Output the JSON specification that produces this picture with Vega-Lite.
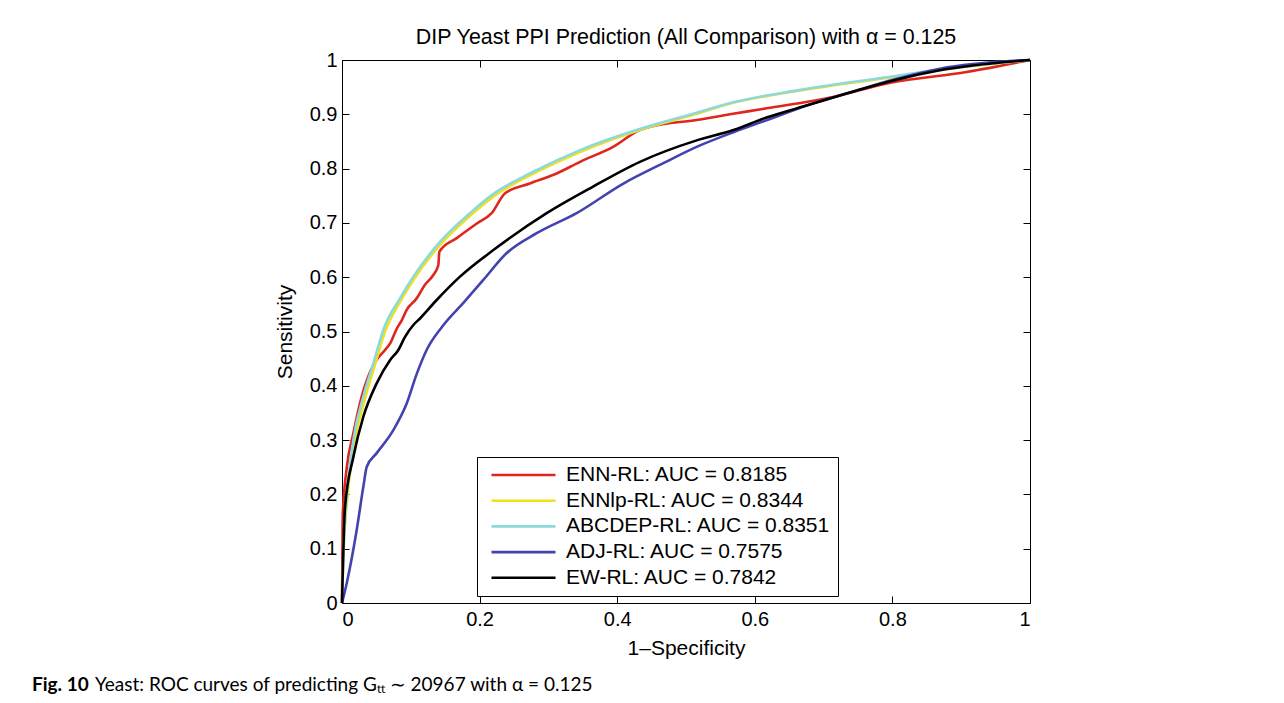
{
  "$schema": "https://vega.github.io/schema/vega-lite/v6.json",
  "background": "white",
  "padding": {"left": 32, "top": 26, "right": 10, "bottom": 0},
  "bounds": "flush",
  "spacing": 72,
  "vconcat": [
    {
      "title": {"text": "DIP Yeast PPI Prediction (All Comparison) with \u03b1 = 0.125", "font": "Liberation Sans", "fontSize": 21.4, "fontWeight": "normal", "color": "black", "offset": 2},
      "width": 688,
      "height": 543,
      "data": {"values": [
        {"model": "ENN-RL: AUC = 0.8185", "fpr": 0, "tpr": 0},
        {"model": "ENN-RL: AUC = 0.8185", "fpr": 0.001, "tpr": 0.16},
        {"model": "ENN-RL: AUC = 0.8185", "fpr": 0.007, "tpr": 0.25},
        {"model": "ENN-RL: AUC = 0.8185", "fpr": 0.0165, "tpr": 0.3125},
        {"model": "ENN-RL: AUC = 0.8185", "fpr": 0.0286, "tpr": 0.38},
        {"model": "ENN-RL: AUC = 0.8185", "fpr": 0.0455, "tpr": 0.438},
        {"model": "ENN-RL: AUC = 0.8185", "fpr": 0.0625, "tpr": 0.466},
        {"model": "ENN-RL: AUC = 0.8185", "fpr": 0.07, "tpr": 0.478},
        {"model": "ENN-RL: AUC = 0.8185", "fpr": 0.0795, "tpr": 0.505},
        {"model": "ENN-RL: AUC = 0.8185", "fpr": 0.087, "tpr": 0.521},
        {"model": "ENN-RL: AUC = 0.8185", "fpr": 0.094, "tpr": 0.54},
        {"model": "ENN-RL: AUC = 0.8185", "fpr": 0.1085, "tpr": 0.561},
        {"model": "ENN-RL: AUC = 0.8185", "fpr": 0.1206, "tpr": 0.586},
        {"model": "ENN-RL: AUC = 0.8185", "fpr": 0.1327, "tpr": 0.604},
        {"model": "ENN-RL: AUC = 0.8185", "fpr": 0.14, "tpr": 0.622},
        {"model": "ENN-RL: AUC = 0.8185", "fpr": 0.1415, "tpr": 0.647},
        {"model": "ENN-RL: AUC = 0.8185", "fpr": 0.1667, "tpr": 0.672},
        {"model": "ENN-RL: AUC = 0.8185", "fpr": 0.196, "tpr": 0.699},
        {"model": "ENN-RL: AUC = 0.8185", "fpr": 0.2175, "tpr": 0.718},
        {"model": "ENN-RL: AUC = 0.8185", "fpr": 0.237, "tpr": 0.7545},
        {"model": "ENN-RL: AUC = 0.8185", "fpr": 0.273, "tpr": 0.7725},
        {"model": "ENN-RL: AUC = 0.8185", "fpr": 0.312, "tpr": 0.791},
        {"model": "ENN-RL: AUC = 0.8185", "fpr": 0.346, "tpr": 0.8125},
        {"model": "ENN-RL: AUC = 0.8185", "fpr": 0.394, "tpr": 0.84},
        {"model": "ENN-RL: AUC = 0.8185", "fpr": 0.433, "tpr": 0.871},
        {"model": "ENN-RL: AUC = 0.8185", "fpr": 0.448, "tpr": 0.877},
        {"model": "ENN-RL: AUC = 0.8185", "fpr": 0.5155, "tpr": 0.8895},
        {"model": "ENN-RL: AUC = 0.8185", "fpr": 0.564, "tpr": 0.9},
        {"model": "ENN-RL: AUC = 0.8185", "fpr": 0.617, "tpr": 0.911},
        {"model": "ENN-RL: AUC = 0.8185", "fpr": 0.714, "tpr": 0.932},
        {"model": "ENN-RL: AUC = 0.8185", "fpr": 0.797, "tpr": 0.958},
        {"model": "ENN-RL: AUC = 0.8185", "fpr": 0.908, "tpr": 0.978},
        {"model": "ENN-RL: AUC = 0.8185", "fpr": 1, "tpr": 1},

        {"model": "ENNlp-RL: AUC = 0.8344", "fpr": 0, "tpr": 0},
        {"model": "ENNlp-RL: AUC = 0.8344", "fpr": 0.002, "tpr": 0.086},
        {"model": "ENNlp-RL: AUC = 0.8344", "fpr": 0.0075, "tpr": 0.19},
        {"model": "ENNlp-RL: AUC = 0.8344", "fpr": 0.018, "tpr": 0.294},
        {"model": "ENNlp-RL: AUC = 0.8344", "fpr": 0.033, "tpr": 0.374},
        {"model": "ENNlp-RL: AUC = 0.8344", "fpr": 0.047, "tpr": 0.435},
        {"model": "ENNlp-RL: AUC = 0.8344", "fpr": 0.062, "tpr": 0.498},
        {"model": "ENNlp-RL: AUC = 0.8344", "fpr": 0.0855, "tpr": 0.557},
        {"model": "ENNlp-RL: AUC = 0.8344", "fpr": 0.105, "tpr": 0.597},
        {"model": "ENNlp-RL: AUC = 0.8344", "fpr": 0.1435, "tpr": 0.661},
        {"model": "ENNlp-RL: AUC = 0.8344", "fpr": 0.187, "tpr": 0.714},
        {"model": "ENNlp-RL: AUC = 0.8344", "fpr": 0.226, "tpr": 0.754},
        {"model": "ENNlp-RL: AUC = 0.8344", "fpr": 0.274, "tpr": 0.788},
        {"model": "ENNlp-RL: AUC = 0.8344", "fpr": 0.347, "tpr": 0.831},
        {"model": "ENNlp-RL: AUC = 0.8344", "fpr": 0.443, "tpr": 0.875},
        {"model": "ENNlp-RL: AUC = 0.8344", "fpr": 0.5155, "tpr": 0.901},
        {"model": "ENNlp-RL: AUC = 0.8344", "fpr": 0.559, "tpr": 0.918},
        {"model": "ENNlp-RL: AUC = 0.8344", "fpr": 0.666, "tpr": 0.944},
        {"model": "ENNlp-RL: AUC = 0.8344", "fpr": 0.797, "tpr": 0.968},
        {"model": "ENNlp-RL: AUC = 0.8344", "fpr": 0.884, "tpr": 0.984},
        {"model": "ENNlp-RL: AUC = 0.8344", "fpr": 1, "tpr": 1},

        {"model": "ABCDEP-RL: AUC = 0.8351", "fpr": 0, "tpr": 0},
        {"model": "ABCDEP-RL: AUC = 0.8351", "fpr": 0.002, "tpr": 0.09},
        {"model": "ABCDEP-RL: AUC = 0.8351", "fpr": 0.007, "tpr": 0.196},
        {"model": "ABCDEP-RL: AUC = 0.8351", "fpr": 0.0165, "tpr": 0.3},
        {"model": "ABCDEP-RL: AUC = 0.8351", "fpr": 0.031, "tpr": 0.38},
        {"model": "ABCDEP-RL: AUC = 0.8351", "fpr": 0.0455, "tpr": 0.441},
        {"model": "ABCDEP-RL: AUC = 0.8351", "fpr": 0.06, "tpr": 0.503},
        {"model": "ABCDEP-RL: AUC = 0.8351", "fpr": 0.0843, "tpr": 0.561},
        {"model": "ABCDEP-RL: AUC = 0.8351", "fpr": 0.1037, "tpr": 0.601},
        {"model": "ABCDEP-RL: AUC = 0.8351", "fpr": 0.1424, "tpr": 0.665},
        {"model": "ABCDEP-RL: AUC = 0.8351", "fpr": 0.186, "tpr": 0.718},
        {"model": "ABCDEP-RL: AUC = 0.8351", "fpr": 0.2248, "tpr": 0.7575},
        {"model": "ABCDEP-RL: AUC = 0.8351", "fpr": 0.273, "tpr": 0.791},
        {"model": "ABCDEP-RL: AUC = 0.8351", "fpr": 0.346, "tpr": 0.834},
        {"model": "ABCDEP-RL: AUC = 0.8351", "fpr": 0.443, "tpr": 0.877},
        {"model": "ABCDEP-RL: AUC = 0.8351", "fpr": 0.5155, "tpr": 0.903},
        {"model": "ABCDEP-RL: AUC = 0.8351", "fpr": 0.559, "tpr": 0.919},
        {"model": "ABCDEP-RL: AUC = 0.8351", "fpr": 0.666, "tpr": 0.945},
        {"model": "ABCDEP-RL: AUC = 0.8351", "fpr": 0.797, "tpr": 0.969},
        {"model": "ABCDEP-RL: AUC = 0.8351", "fpr": 0.884, "tpr": 0.985},
        {"model": "ABCDEP-RL: AUC = 0.8351", "fpr": 1, "tpr": 1},

        {"model": "ADJ-RL: AUC = 0.7575", "fpr": 0, "tpr": 0},
        {"model": "ADJ-RL: AUC = 0.7575", "fpr": 0.0068, "tpr": 0.036},
        {"model": "ADJ-RL: AUC = 0.7575", "fpr": 0.0213, "tpr": 0.134},
        {"model": "ADJ-RL: AUC = 0.7575", "fpr": 0.031, "tpr": 0.214},
        {"model": "ADJ-RL: AUC = 0.7575", "fpr": 0.036, "tpr": 0.251},
        {"model": "ADJ-RL: AUC = 0.7575", "fpr": 0.0504, "tpr": 0.276},
        {"model": "ADJ-RL: AUC = 0.7575", "fpr": 0.0746, "tpr": 0.3185},
        {"model": "ADJ-RL: AUC = 0.7575", "fpr": 0.094, "tpr": 0.3675},
        {"model": "ADJ-RL: AUC = 0.7575", "fpr": 0.1085, "tpr": 0.4215},
        {"model": "ADJ-RL: AUC = 0.7575", "fpr": 0.123, "tpr": 0.466},
        {"model": "ADJ-RL: AUC = 0.7575", "fpr": 0.145, "tpr": 0.508},
        {"model": "ADJ-RL: AUC = 0.7575", "fpr": 0.178, "tpr": 0.555},
        {"model": "ADJ-RL: AUC = 0.7575", "fpr": 0.2054, "tpr": 0.595},
        {"model": "ADJ-RL: AUC = 0.7575", "fpr": 0.239, "tpr": 0.644},
        {"model": "ADJ-RL: AUC = 0.7575", "fpr": 0.283, "tpr": 0.681},
        {"model": "ADJ-RL: AUC = 0.7575", "fpr": 0.341, "tpr": 0.718},
        {"model": "ADJ-RL: AUC = 0.7575", "fpr": 0.409, "tpr": 0.7725},
        {"model": "ADJ-RL: AUC = 0.7575", "fpr": 0.467, "tpr": 0.81},
        {"model": "ADJ-RL: AUC = 0.7575", "fpr": 0.5155, "tpr": 0.84},
        {"model": "ADJ-RL: AUC = 0.7575", "fpr": 0.569, "tpr": 0.867},
        {"model": "ADJ-RL: AUC = 0.7575", "fpr": 0.617, "tpr": 0.889},
        {"model": "ADJ-RL: AUC = 0.7575", "fpr": 0.68, "tpr": 0.918},
        {"model": "ADJ-RL: AUC = 0.7575", "fpr": 0.738, "tpr": 0.94},
        {"model": "ADJ-RL: AUC = 0.7575", "fpr": 0.802, "tpr": 0.964},
        {"model": "ADJ-RL: AUC = 0.7575", "fpr": 0.869, "tpr": 0.984},
        {"model": "ADJ-RL: AUC = 0.7575", "fpr": 1, "tpr": 1},

        {"model": "EW-RL: AUC = 0.7842", "fpr": 0, "tpr": 0},
        {"model": "EW-RL: AUC = 0.7842", "fpr": 0.0044, "tpr": 0.177},
        {"model": "EW-RL: AUC = 0.7842", "fpr": 0.0165, "tpr": 0.269},
        {"model": "EW-RL: AUC = 0.7842", "fpr": 0.031, "tpr": 0.343},
        {"model": "EW-RL: AUC = 0.7842", "fpr": 0.0504, "tpr": 0.4045},
        {"model": "EW-RL: AUC = 0.7842", "fpr": 0.07, "tpr": 0.4475},
        {"model": "EW-RL: AUC = 0.7842", "fpr": 0.0819, "tpr": 0.466},
        {"model": "EW-RL: AUC = 0.7842", "fpr": 0.0916, "tpr": 0.49},
        {"model": "EW-RL: AUC = 0.7842", "fpr": 0.1037, "tpr": 0.512},
        {"model": "EW-RL: AUC = 0.7842", "fpr": 0.1134, "tpr": 0.524},
        {"model": "EW-RL: AUC = 0.7842", "fpr": 0.1376, "tpr": 0.558},
        {"model": "EW-RL: AUC = 0.7842", "fpr": 0.1715, "tpr": 0.601},
        {"model": "EW-RL: AUC = 0.7842", "fpr": 0.22, "tpr": 0.65},
        {"model": "EW-RL: AUC = 0.7842", "fpr": 0.2975, "tpr": 0.718},
        {"model": "EW-RL: AUC = 0.7842", "fpr": 0.365, "tpr": 0.767},
        {"model": "EW-RL: AUC = 0.7842", "fpr": 0.433, "tpr": 0.8125},
        {"model": "EW-RL: AUC = 0.7842", "fpr": 0.5155, "tpr": 0.852},
        {"model": "EW-RL: AUC = 0.7842", "fpr": 0.569, "tpr": 0.871},
        {"model": "EW-RL: AUC = 0.7842", "fpr": 0.617, "tpr": 0.894},
        {"model": "EW-RL: AUC = 0.7842", "fpr": 0.68, "tpr": 0.918},
        {"model": "EW-RL: AUC = 0.7842", "fpr": 0.738, "tpr": 0.94},
        {"model": "EW-RL: AUC = 0.7842", "fpr": 0.797, "tpr": 0.961},
        {"model": "EW-RL: AUC = 0.7842", "fpr": 0.869, "tpr": 0.981},
        {"model": "EW-RL: AUC = 0.7842", "fpr": 1, "tpr": 1}
      ]},
      "layer": [
        {
          "mark": {"type": "line", "strokeWidth": 2.6, "opacity": 0},
          "encoding": {
            "x": {"field": "fpr", "type": "quantitative", "scale": {"domain": [0, 1], "nice": false}, "axis": {"orient": "top", "labels": false, "title": null, "values": [0, 0.2, 0.4, 0.6, 0.8, 1]}},
            "y": {"field": "tpr", "type": "quantitative", "scale": {"domain": [0, 1], "nice": false}, "axis": {"orient": "right", "labels": false, "title": null, "values": [0, 0.1, 0.2, 0.3, 0.4, 0.5, 0.6, 0.7, 0.8, 0.9, 1]}}
          }
        },
        {
          "mark": {"type": "line", "strokeWidth": 2.6, "strokeJoin": "round", "interpolate": "monotone"},
          "encoding": {
            "x": {"field": "fpr", "type": "quantitative", "scale": {"domain": [0, 1], "nice": false}, "axis": {"orient": "bottom", "title": "1\u2013Specificity", "values": [0, 0.2, 0.4, 0.6, 0.8, 1], "format": "~g", "labelPadding": 13, "titlePadding": 8}},
            "y": {"field": "tpr", "type": "quantitative", "scale": {"domain": [0, 1], "nice": false}, "axis": {"orient": "left", "title": "Sensitivity", "values": [0, 0.1, 0.2, 0.3, 0.4, 0.5, 0.6, 0.7, 0.8, 0.9, 1], "format": "~g", "labelPadding": 12, "titlePadding": 14}},
            "color": {
              "field": "model", "type": "nominal",
              "scale": {
                "domain": ["ENN-RL: AUC = 0.8185", "ENNlp-RL: AUC = 0.8344", "ABCDEP-RL: AUC = 0.8351", "ADJ-RL: AUC = 0.7575", "EW-RL: AUC = 0.7842"],
                "range": ["#e0261c", "#f2e01a", "#8cd9dc", "#4343b0", "#000000"]
              },
              "legend": {
                "title": null,
                "orient": "none",
                "legendX": 135,
                "legendY": 397,
                "symbolType": "stroke",
                "symbolSize": 4096,
                "symbolStrokeWidth": 2.6,
                "clipHeight": 22,
                "rowPadding": 3.7,
                "padding": 7,
                "symbolOffset": 6,
                "labelOffset": 9,
                "labelFont": "Liberation Sans",
                "labelFontSize": 21,
                "labelColor": "black",
                "labelLimit": 0,
                "strokeColor": "black",
                "fillColor": "white"
              }
            }
          }
        }
      ],
      "resolve": {"axis": {"x": "independent", "y": "independent"}}
    },
    {
      "bounds": "flush",
      "spacing": 62,
      "hconcat": [
        {
          "width": 1,
          "height": 1,
          "view": {"stroke": null},
          "data": {"values": []},
          "mark": "point",
          "title": {"text": "Fig. 10", "orient": "bottom", "anchor": "start", "dx": -310, "offset": 0, "font": "Lato", "fontSize": 19, "fontWeight": "bold", "color": "black"}
        },
        {
          "width": 1,
          "height": 1,
          "view": {"stroke": null},
          "data": {"values": []},
          "mark": "point",
          "title": {"text": "Yeast: ROC curves of predicting G\u209c\u209c \u223c 20967 with \u03b1 = 0.125", "orient": "bottom", "anchor": "start", "dx": -310, "offset": 0, "font": "Lato", "fontSize": 19, "fontWeight": "normal", "color": "black"}
        }
      ]
    }
  ],
  "config": {
    "view": {"stroke": "black", "strokeWidth": 1},
    "axis": {
      "domain": false,
      "grid": false,
      "ticks": true,
      "tickColor": "black",
      "tickSize": -7,
      "tickWidth": 1,
      "labelFont": "Liberation Sans",
      "labelFontSize": 20,
      "labelColor": "black",
      "titleFont": "Liberation Sans",
      "titleFontSize": 21,
      "titleFontWeight": "normal",
      "titleColor": "black"
    }
  }
}
